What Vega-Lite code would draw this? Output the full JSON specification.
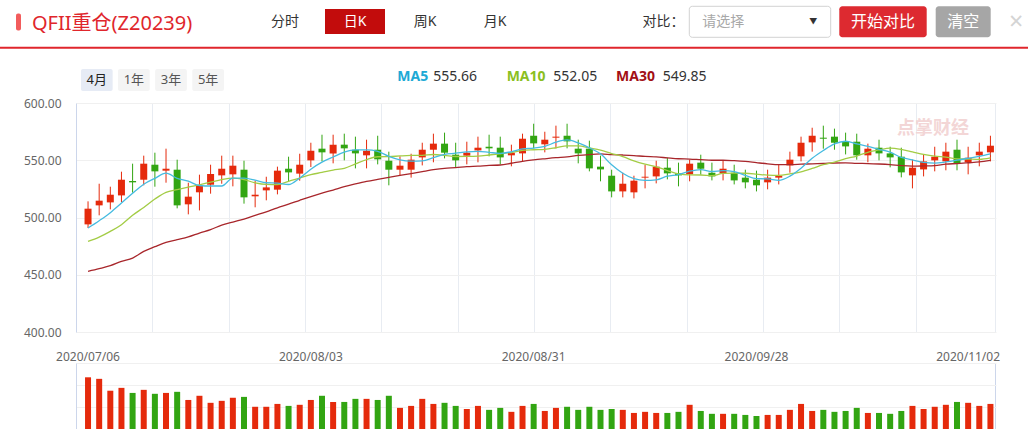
{
  "$schema": "https://vega.github.io/schema/vega-lite/v6.json",
  "padding": 0,
  "background": "white",
  "bounds": "flush",
  "spacing": 31,
  "config": {"font": "Noto Sans, Noto Sans CJK SC", "view": {"stroke": null}},
  "datasets": {
    "k": [
      {"date":"2020/07/06","open":494.0,"high":514.1,"low":490.8,"close":507.7,"volume":235,"ma5":490.8,"ma10":479.2,"ma30":453.0},
      {"date":"2020/07/07","open":510.6,"high":529.5,"low":501.9,"close":514.7,"volume":228,"ma5":497.2,"ma10":482.9,"ma30":455.3},
      {"date":"2020/07/08","open":513.2,"high":526.9,"low":507.1,"close":519.9,"volume":174,"ma5":504.2,"ma10":487.9,"ma30":457.9},
      {"date":"2020/07/09","open":519.3,"high":540.0,"low":513.5,"close":533.0,"volume":187,"ma5":512.6,"ma10":493.7,"ma30":461.7},
      {"date":"2020/07/10","open":531.9,"high":547.0,"low":521.7,"close":530.7,"volume":164,"ma5":521.2,"ma10":501.9,"ma30":464.6},
      {"date":"2020/07/13","open":533.0,"high":554.0,"low":528.1,"close":547.0,"volume":178,"ma5":529.06,"ma10":508.8,"ma30":470.4},
      {"date":"2020/07/14","open":546.1,"high":556.6,"low":526.9,"close":540.3,"volume":160,"ma5":534.18,"ma10":516.1,"ma30":474.5},
      {"date":"2020/07/15","open":540.9,"high":560.1,"low":530.4,"close":542.6,"volume":164,"ma5":538.72,"ma10":522.0,"ma30":478.3},
      {"date":"2020/07/16","open":541.75,"high":550.5,"low":508.0,"close":510.6,"volume":169,"ma5":534.24,"ma10":524.3,"ma30":480.6},
      {"date":"2020/07/17","open":511.5,"high":530.4,"low":502.75,"close":518.2,"volume":132,"ma5":531.74,"ma10":526.47,"ma30":483.0},
      {"date":"2020/07/20","open":522.0,"high":537.4,"low":506.2,"close":528.1,"volume":151,"ma5":527.96,"ma10":528.51,"ma30":486.4},
      {"date":"2020/07/21","open":528.65,"high":546.1,"low":520.8,"close":538.0,"volume":119,"ma5":527.5,"ma10":530.84,"ma30":489.5},
      {"date":"2020/07/22","open":536.8,"high":554.0,"low":529.5,"close":542.6,"volume":128,"ma5":527.5,"ma10":533.11,"ma30":493.3},
      {"date":"2020/07/23","open":537.7,"high":554.0,"low":527.2,"close":545.25,"volume":142,"ma5":534.43,"ma10":534.34,"ma30":496.0},
      {"date":"2020/07/24","open":541.75,"high":549.6,"low":512.1,"close":517.6,"volume":146,"ma5":534.31,"ma10":533.03,"ma30":498.6},
      {"date":"2020/07/27","open":518.5,"high":532.15,"low":508.9,"close":519.9,"volume":101,"ma5":532.67,"ma10":530.32,"ma30":501.8},
      {"date":"2020/07/28","open":523.7,"high":535.6,"low":515.0,"close":526.3,"volume":101,"ma5":530.33,"ma10":528.92,"ma30":505.0},
      {"date":"2020/07/29","open":524.3,"high":544.4,"low":520.2,"close":540.9,"volume":114,"ma5":529.99,"ma10":528.75,"ma30":508.5},
      {"date":"2020/07/30","open":542.6,"high":553.1,"low":531.6,"close":539.4,"volume":105,"ma5":528.82,"ma10":531.63,"ma30":511.6},
      {"date":"2020/07/31","open":538.3,"high":555.7,"low":532.15,"close":546.1,"volume":110,"ma5":534.52,"ma10":534.42,"ma30":515.0},
      {"date":"2020/08/03","open":549.9,"high":565.3,"low":544.1,"close":558.3,"volume":132,"ma5":542.2,"ma10":537.44,"ma30":518.3},
      {"date":"2020/08/04","open":560.1,"high":572.3,"low":549.0,"close":556.9,"volume":151,"ma5":548.32,"ma10":539.33,"ma30":521.3},
      {"date":"2020/08/05","open":556.0,"high":572.3,"low":547.3,"close":563.6,"volume":123,"ma5":552.86,"ma10":541.43,"ma30":524.0},
      {"date":"2020/08/06","open":563.6,"high":573.2,"low":549.9,"close":560.4,"volume":123,"ma5":557.06,"ma10":542.94,"ma30":526.9},
      {"date":"2020/08/07","open":559.2,"high":570.6,"low":542.9,"close":556.0,"volume":137,"ma5":559.04,"ma10":546.78,"ma30":529.3},
      {"date":"2020/08/10","open":554.3,"high":567.95,"low":542.9,"close":558.3,"volume":137,"ma5":559.04,"ma10":550.62,"ma30":531.5},
      {"date":"2020/08/11","open":559.2,"high":571.4,"low":546.4,"close":550.8,"volume":132,"ma5":557.82,"ma10":553.07,"ma30":533.3},
      {"date":"2020/08/12","open":549.6,"high":557.5,"low":528.1,"close":541.75,"volume":151,"ma5":553.45,"ma10":553.16,"ma30":535.0},
      {"date":"2020/08/13","open":541.75,"high":553.4,"low":536.5,"close":545.25,"volume":96,"ma5":550.42,"ma10":553.74,"ma30":536.7},
      {"date":"2020/08/14","open":541.75,"high":555.7,"low":534.8,"close":550.5,"volume":105,"ma5":549.32,"ma10":554.18,"ma30":538.36},
      {"date":"2020/08/17","open":552.5,"high":565.3,"low":545.5,"close":559.2,"volume":137,"ma5":549.5,"ma10":554.27,"ma30":540.07},
      {"date":"2020/08/18","open":559.2,"high":573.2,"low":548.2,"close":564.5,"volume":114,"ma5":552.24,"ma10":555.03,"ma30":541.73},
      {"date":"2020/08/19","open":564.5,"high":574.1,"low":551.65,"close":556.6,"volume":119,"ma5":555.21,"ma10":554.33,"ma30":542.96},
      {"date":"2020/08/20","open":554.85,"high":565.3,"low":543.8,"close":549.9,"volume":105,"ma5":556.14,"ma10":553.28,"ma30":543.52},
      {"date":"2020/08/21","open":554.0,"high":566.2,"low":546.4,"close":556.6,"volume":91,"ma5":557.36,"ma10":553.34,"ma30":544.38},
      {"date":"2020/08/24","open":558.6,"high":570.6,"low":548.2,"close":560.96,"volume":105,"ma5":557.71,"ma10":553.61,"ma30":544.85},
      {"date":"2020/08/25","open":561.8,"high":572.3,"low":553.4,"close":560.4,"volume":87,"ma5":556.89,"ma10":554.57,"ma30":545.52},
      {"date":"2020/08/26","open":560.96,"high":570.6,"low":546.4,"close":552.5,"volume":96,"ma5":556.07,"ma10":555.64,"ma30":545.85},
      {"date":"2020/08/27","open":554.3,"high":563.6,"low":544.7,"close":556.6,"volume":78,"ma5":557.41,"ma10":556.78,"ma30":547.38},
      {"date":"2020/08/28","open":556.0,"high":573.2,"low":549.0,"close":568.8,"volume":105,"ma5":559.85,"ma10":558.61,"ma30":549.07},
      {"date":"2020/08/31","open":571.4,"high":581.9,"low":560.4,"close":564.75,"volume":114,"ma5":560.61,"ma10":559.16,"ma30":550.29},
      {"date":"2020/09/01","open":563.9,"high":574.9,"low":556.9,"close":567.95,"volume":82,"ma5":562.12,"ma10":559.51,"ma30":551.29},
      {"date":"2020/09/02","open":569.7,"high":580.2,"low":560.4,"close":570.6,"volume":96,"ma5":565.74,"ma10":560.91,"ma30":552.22},
      {"date":"2020/09/03","open":571.4,"high":581.9,"low":560.4,"close":566.5,"volume":101,"ma5":567.72,"ma10":562.57,"ma30":552.93},
      {"date":"2020/09/04","open":560.1,"high":567.95,"low":547.3,"close":556.0,"volume":87,"ma5":565.16,"ma10":562.51,"ma30":554.21},
      {"date":"2020/09/07","open":560.1,"high":567.1,"low":540.3,"close":542.9,"volume":101,"ma5":560.79,"ma10":560.7,"ma30":554.98},
      {"date":"2020/09/08","open":544.4,"high":554.0,"low":531.6,"close":542.0,"volume":87,"ma5":555.6,"ma10":558.86,"ma30":555.5},
      {"date":"2020/09/09","open":536.5,"high":541.75,"low":517.6,"close":522.8,"volume":91,"ma5":546.04,"ma10":555.89,"ma30":554.9},
      {"date":"2020/09/10","open":522.8,"high":539.1,"low":517.6,"close":529.5,"volume":87,"ma5":538.64,"ma10":553.18,"ma30":554.57},
      {"date":"2020/09/11","open":521.96,"high":536.5,"low":516.7,"close":532.15,"volume":73,"ma5":533.87,"ma10":549.52,"ma30":554.1},
      {"date":"2020/09/14","open":534.8,"high":546.1,"low":525.45,"close":535.6,"volume":78,"ma5":532.41,"ma10":546.6,"ma30":553.34},
      {"date":"2020/09/15","open":535.9,"high":549.6,"low":529.8,"close":544.4,"volume":73,"ma5":532.89,"ma10":544.25,"ma30":552.93},
      {"date":"2020/09/16","open":543.5,"high":552.2,"low":533.3,"close":538.55,"volume":73,"ma5":536.04,"ma10":541.04,"ma30":552.09},
      {"date":"2020/09/17","open":538.55,"high":547.9,"low":527.2,"close":536.8,"volume":78,"ma5":537.5,"ma10":538.07,"ma30":551.31},
      {"date":"2020/09/18","open":537.7,"high":550.5,"low":531.6,"close":547.0,"volume":110,"ma5":540.47,"ma10":537.17,"ma30":551.01},
      {"date":"2020/09/21","open":547.9,"high":554.85,"low":537.4,"close":542.6,"volume":82,"ma5":541.87,"ma10":537.14,"ma30":550.48},
      {"date":"2020/09/22","open":539.1,"high":547.9,"low":532.4,"close":535.9,"volume":69,"ma5":540.17,"ma10":536.53,"ma30":549.99},
      {"date":"2020/09/23","open":538.55,"high":549.6,"low":532.4,"close":542.6,"volume":69,"ma5":540.98,"ma10":538.51,"ma30":550.01},
      {"date":"2020/09/24","open":539.1,"high":546.1,"low":528.9,"close":532.4,"volume":69,"ma5":540.1,"ma10":538.8,"ma30":549.59},
      {"date":"2020/09/25","open":534.8,"high":541.75,"low":525.45,"close":530.7,"volume":64,"ma5":536.84,"ma10":538.66,"ma30":548.93},
      {"date":"2020/09/28","open":533.0,"high":540.9,"low":522.8,"close":528.1,"volume":59,"ma5":533.94,"ma10":537.91,"ma30":547.89},
      {"date":"2020/09/29","open":530.7,"high":541.75,"low":524.6,"close":534.8,"volume":64,"ma5":533.72,"ma10":536.95,"ma30":546.9},
      {"date":"2020/09/30","open":534.8,"high":546.1,"low":528.9,"close":536.5,"volume":64,"ma5":532.5,"ma10":536.74,"ma30":546.23},
      {"date":"2020/10/09","open":545.5,"high":557.5,"low":539.1,"close":550.5,"volume":87,"ma5":536.12,"ma10":538.11,"ma30":546.25},
      {"date":"2020/10/12","open":553.4,"high":570.6,"low":549.0,"close":565.3,"volume":114,"ma5":543.04,"ma10":539.94,"ma30":546.54},
      {"date":"2020/10/13","open":565.6,"high":578.4,"low":557.5,"close":571.4,"volume":82,"ma5":551.7,"ma10":542.82,"ma30":546.89},
      {"date":"2020/10/14","open":569.7,"high":580.2,"low":560.1,"close":568.8,"volume":87,"ma5":558.5,"ma10":546.11,"ma30":547.17},
      {"date":"2020/10/15","open":570.6,"high":577.6,"low":559.2,"close":565.3,"volume":78,"ma5":564.26,"ma10":548.38,"ma30":547.59},
      {"date":"2020/10/16","open":566.2,"high":574.1,"low":555.1,"close":562.1,"volume":82,"ma5":566.58,"ma10":551.35,"ma30":547.78},
      {"date":"2020/10/19","open":566.2,"high":573.2,"low":550.5,"close":554.3,"volume":96,"ma5":564.38,"ma10":553.71,"ma30":547.29},
      {"date":"2020/10/20","open":554.3,"high":564.5,"low":548.2,"close":560.1,"volume":73,"ma5":562.12,"ma10":556.91,"ma30":547.14},
      {"date":"2020/10/21","open":560.96,"high":567.95,"low":549.9,"close":556.0,"volume":73,"ma5":559.56,"ma10":559.03,"ma30":546.74},
      {"date":"2020/10/22","open":556.0,"high":561.8,"low":543.8,"close":552.5,"volume":69,"ma5":557.0,"ma10":560.63,"ma30":546.14},
      {"date":"2020/10/23","open":553.1,"high":560.96,"low":535.06,"close":539.4,"volume":82,"ma5":552.46,"ma10":559.52,"ma30":545.23},
      {"date":"2020/10/26","open":536.8,"high":550.5,"low":525.45,"close":543.5,"volume":105,"ma5":550.3,"ma10":557.34,"ma30":544.82},
      {"date":"2020/10/27","open":542.0,"high":554.85,"low":535.9,"close":549.0,"volume":91,"ma5":548.08,"ma10":555.1,"ma30":545.02},
      {"date":"2020/10/28","open":549.9,"high":561.8,"low":540.3,"close":553.1,"volume":101,"ma5":547.5,"ma10":553.53,"ma30":545.39},
      {"date":"2020/10/29","open":549.0,"high":565.3,"low":541.2,"close":557.5,"volume":110,"ma5":548.5,"ma10":552.75,"ma30":546.55},
      {"date":"2020/10/30","open":559.2,"high":567.95,"low":541.2,"close":547.0,"volume":123,"ma5":550.02,"ma10":551.24,"ma30":547.13},
      {"date":"2020/11/02","open":548.2,"high":561.8,"low":537.7,"close":552.2,"volume":119,"ma5":551.76,"ma10":551.03,"ma30":547.8},
      {"date":"2020/11/03","open":554.3,"high":565.3,"low":544.7,"close":557.5,"volume":105,"ma5":553.46,"ma10":550.77,"ma30":548.53},
      {"date":"2020/11/04","open":556.9,"high":571.4,"low":549.0,"close":562.7,"volume":114,"ma5":555.66,"ma10":552.05,"ma30":549.85}
    ],
    "hdr": [
      {"grp":"titlebar","label":"bar"},
      {"grp":"title","label":"QFII重仓(Z20239)"},
      {"grp":"tab","label":"分时"},{"grp":"tab","label":"日K"},{"grp":"tab","label":"周K"},{"grp":"tab","label":"月K"},
      {"grp":"cmp","label":"对比："},
      {"grp":"select","label":"请选择"},
      {"grp":"start","label":"开始对比"},
      {"grp":"clear","label":"清空"},
      {"grp":"close","label":"×"},
      {"grp":"rule","label":"rule"},
      {"grp":"period","label":"4月"},{"grp":"period","label":"1年"},{"grp":"period","label":"3年"},{"grp":"period","label":"5年"},
      {"grp":"ma","label":"MA5","value":"555.66"},{"grp":"ma","label":"MA10","value":"552.05"},{"grp":"ma","label":"MA30","value":"549.85"}
    ]
  },
  "vconcat": [
    {
      "width": 920,
      "height": 72,
      "data": {"name": "hdr"},
      "resolve": {"scale": {"x": "independent", "y": "independent"}},
      "layer": [
        {
          "transform": [{"filter": "datum.grp === 'titlebar'"}],
          "mark": {"type": "bar", "color": "#f25c5c", "cornerRadius": 2},
          "encoding": {
            "x": {"field": "label", "type": "nominal", "scale": {"type": "band", "domain": ["bar"], "range": [-60, -55], "paddingInner": 0, "paddingOuter": 0}, "axis": null},
            "y": {"field": "grp", "type": "nominal", "scale": {"type": "band", "domain": ["titlebar"], "range": [13.5, 30.5], "paddingInner": 0, "paddingOuter": 0}, "axis": null}
          }
        },
        {
          "transform": [{"filter": "datum.grp === 'title'"}],
          "mark": {"type": "text", "align": "left", "fontSize": 20, "color": "#e0262c"},
          "encoding": {
            "x": {"field": "label", "type": "nominal", "bandPosition": 0, "scale": {"type": "band", "domain": ["QFII重仓(Z20239)"], "range": [-44, 120], "paddingInner": 0, "paddingOuter": 0}, "axis": null},
            "y": {"field": "grp", "type": "nominal", "scale": {"type": "band", "domain": ["title"], "range": [12, 35], "paddingInner": 0, "paddingOuter": 0}, "axis": null},
            "text": {"field": "label"}
          }
        },
        {
          "transform": [{"filter": "datum.grp === 'tab'"}],
          "encoding": {
            "x": {"field": "label", "type": "nominal", "sort": null, "scale": {"type": "band", "domain": ["分时", "日K", "周K", "月K"], "range": [174, 454], "paddingInner": 0.1429, "paddingOuter": 0.0714}, "axis": null},
            "y": {"field": "grp", "type": "nominal", "scale": {"type": "band", "domain": ["tab"], "range": [9, 34], "paddingInner": 0, "paddingOuter": 0}, "axis": null}
          },
          "layer": [
            {"transform": [{"filter": "datum.label === '日K'"}], "mark": {"type": "bar", "color": "#c20c0c"}},
            {"mark": {"type": "text", "fontSize": 14}, "encoding": {"text": {"field": "label"}, "color": {"condition": {"test": "datum.label === '日K'", "value": "white"}, "value": "#333333"}}}
          ]
        },
        {
          "transform": [{"filter": "datum.grp === 'cmp'"}],
          "mark": {"type": "text", "fontSize": 14, "color": "#333333"},
          "encoding": {
            "x": {"field": "label", "type": "nominal", "scale": {"type": "band", "domain": ["对比："], "range": [564, 611], "paddingInner": 0, "paddingOuter": 0}, "axis": null},
            "y": {"field": "grp", "type": "nominal", "scale": {"type": "band", "domain": ["cmp"], "range": [6, 37], "paddingInner": 0, "paddingOuter": 0}, "axis": null},
            "text": {"field": "label"}
          }
        },
        {
          "transform": [{"filter": "datum.grp === 'select'"}],
          "encoding": {
            "x": {"field": "label", "type": "nominal", "scale": {"type": "band", "domain": ["请选择"], "range": [613.3, 754.7], "paddingInner": 0, "paddingOuter": 0}, "axis": null},
            "y": {"field": "grp", "type": "nominal", "scale": {"type": "band", "domain": ["select"], "range": [6.3, 37.3], "paddingInner": 0, "paddingOuter": 0}, "axis": null}
          },
          "layer": [
            {"mark": {"type": "bar", "fill": "white", "stroke": "#d2d2d2", "strokeWidth": 1, "cornerRadius": 3}},
            {"mark": {"type": "text", "fontSize": 14, "color": "#a8a8a8", "align": "left", "dx": 13}, "encoding": {"x": {"field": "label", "type": "nominal", "bandPosition": 0}, "text": {"field": "label"}}},
            {"mark": {"type": "text", "fontSize": 8, "color": "#333333", "text": "▼", "dx": -17.5}, "encoding": {"x": {"field": "label", "type": "nominal", "bandPosition": 1}}}
          ]
        },
        {
          "transform": [{"filter": "datum.grp === 'start'"}],
          "encoding": {
            "x": {"field": "label", "type": "nominal", "scale": {"type": "band", "domain": ["开始对比"], "range": [763.3, 850.7], "paddingInner": 0, "paddingOuter": 0}, "axis": null},
            "y": {"field": "grp", "type": "nominal", "scale": {"type": "band", "domain": ["start"], "range": [6.3, 37.3], "paddingInner": 0, "paddingOuter": 0}, "axis": null}
          },
          "layer": [
            {"mark": {"type": "bar", "color": "#dd2a30", "cornerRadius": 3}},
            {"mark": {"type": "text", "fontSize": 16, "color": "white"}, "encoding": {"text": {"field": "label"}}}
          ]
        },
        {
          "transform": [{"filter": "datum.grp === 'clear'"}],
          "encoding": {
            "x": {"field": "label", "type": "nominal", "scale": {"type": "band", "domain": ["清空"], "range": [859.7, 914.7], "paddingInner": 0, "paddingOuter": 0}, "axis": null},
            "y": {"field": "grp", "type": "nominal", "scale": {"type": "band", "domain": ["clear"], "range": [6.3, 37.3], "paddingInner": 0, "paddingOuter": 0}, "axis": null}
          },
          "layer": [
            {"mark": {"type": "bar", "color": "#a6a6a6", "cornerRadius": 3}},
            {"mark": {"type": "text", "fontSize": 16, "color": "white"}, "encoding": {"text": {"field": "label"}}}
          ]
        },
        {
          "transform": [{"filter": "datum.grp === 'close'"}],
          "mark": {"type": "text", "fontSize": 25, "color": "#d4d4d4"},
          "encoding": {
            "x": {"field": "label", "type": "nominal", "scale": {"type": "band", "domain": ["×"], "range": [932.7, 947.7], "paddingInner": 0, "paddingOuter": 0}, "axis": null},
            "y": {"field": "grp", "type": "nominal", "scale": {"type": "band", "domain": ["close"], "range": [10, 34], "paddingInner": 0, "paddingOuter": 0}, "axis": null},
            "text": {"field": "label"}
          }
        },
        {
          "transform": [{"filter": "datum.grp === 'rule'"}],
          "mark": {"type": "bar", "color": "#e0262c"},
          "encoding": {
            "x": {"field": "label", "type": "nominal", "scale": {"type": "band", "domain": ["rule"], "range": [-76, 952], "paddingInner": 0, "paddingOuter": 0}, "axis": null},
            "y": {"field": "grp", "type": "nominal", "scale": {"type": "band", "domain": ["rule"], "range": [46.8, 48.8], "paddingInner": 0, "paddingOuter": 0}, "axis": null}
          }
        },
        {
          "transform": [{"filter": "datum.grp === 'period'"}],
          "encoding": {
            "x": {"field": "label", "type": "nominal", "sort": null, "scale": {"type": "band", "domain": ["4月", "1年", "3年", "5年"], "range": [2.25, 150.65], "paddingInner": 0.1456, "paddingOuter": 0.0728}, "axis": null},
            "y": {"field": "grp", "type": "nominal", "scale": {"type": "band", "domain": ["period"], "range": [69, 91], "paddingInner": 0, "paddingOuter": 0}, "axis": null}
          },
          "layer": [
            {"mark": {"type": "bar", "cornerRadius": 2}, "encoding": {"color": {"condition": {"test": "datum.label === '4月'", "value": "#e6ebf5"}, "value": "#f4f4f4"}}},
            {"mark": {"type": "text", "fontSize": 13}, "encoding": {"text": {"field": "label"}, "color": {"condition": {"test": "datum.label === '4月'", "value": "#222222"}, "value": "#555555"}, "fontWeight": {"condition": {"test": "datum.label === '4月'", "value": "bold"}, "value": "normal"}}}
          ]
        },
        {
          "transform": [{"filter": "datum.grp === 'ma'"}],
          "encoding": {
            "x": {"field": "label", "type": "nominal", "sort": null, "bandPosition": 0, "scale": {"type": "band", "domain": ["MA5", "MA10", "MA30"], "range": [321.3, 649.35], "paddingInner": 0, "paddingOuter": 0}, "axis": null},
            "y": {"field": "grp", "type": "nominal", "scale": {"type": "band", "domain": ["ma"], "range": [65.5, 88.5], "paddingInner": 0, "paddingOuter": 0}, "axis": null}
          },
          "layer": [
            {"mark": {"type": "text", "fontSize": 14, "fontWeight": "bold", "align": "left"}, "encoding": {"text": {"field": "label"}, "color": {"field": "label", "type": "nominal", "scale": {"domain": ["MA5", "MA10", "MA30"], "range": ["#20a9d5", "#8bbf1f", "#a20f14"]}, "legend": null}}},
            {"mark": {"type": "text", "fontSize": 14, "align": "left", "color": "#333333", "dx": {"expr": "datum.label === 'MA5' ? 36 : 46.7"}}, "encoding": {"text": {"field": "value"}}}
          ]
        }
      ]
    },
    {
      "width": 920,
      "height": 229,
      "data": {"name": "k"},
      "resolve": {"scale": {"x": "independent"}},
      "layer": [
        {
          "encoding": {
            "x": {"datum": 0, "type": "quantitative", "scale": {"domain": [0, 12.053], "nice": false, "zero": false}, "axis": {"orient": "top", "grid": true, "gridColor": "#e8ecf2", "labels": false, "ticks": false, "domain": false, "title": null, "values": [1, 2, 3, 4, 5, 6, 7, 8, 9, 10, 11, 12.04]}}
          },
          "layer": [
            {"data": {"values": [{"mark": "watermark"}]}, "mark": {"type": "rule", "opacity": 0}},
            {
              "data": {"values": [{"mark": "watermark"}]},
              "mark": {"type": "text", "text": "点掌财经", "fontSize": 18, "fontWeight": "bold", "color": "#f3d6d6"},
              "encoding": {"x": {"datum": 11.228, "type": "quantitative"}, "y": {"datum": 577, "type": "quantitative"}}
            }
          ]
        },
        {
          "encoding": {
            "x": {"field": "date", "type": "ordinal", "sort": null, "scale": {"type": "band", "paddingInner": 0, "paddingOuter": 0.29, "align": 1}, "axis": null}
          },
          "layer": [
            {
              "mark": {"type": "rule", "strokeWidth": 1},
              "encoding": {
                "y": {"field": "low", "type": "quantitative", "title": null, "scale": {"domain": [400, 600], "nice": false, "zero": false}, "axis": {"values": [400, 450, 500, 550, 600], "format": ".2f", "grid": true, "gridColor": "#f0f0f0", "domain": true, "domainColor": "#ccd6eb", "ticks": false, "labelPadding": 15, "labelColor": "#666666", "labelFontSize": 12}},
                "y2": {"field": "high"},
                "color": {"condition": {"test": "datum.close >= datum.open", "value": "#e52a0c"}, "value": "#32a512"}
              }
            },
            {
              "mark": {"type": "bar", "width": 7},
              "encoding": {
                "y": {"field": "open", "type": "quantitative", "title": null},
                "y2": {"field": "close"},
                "color": {"condition": {"test": "datum.close >= datum.open", "value": "#e52a0c"}, "value": "#32a512"}
              }
            },
            {
              "mark": {"type": "line", "strokeWidth": 1.3, "color": "#a8262b", "interpolate": "monotone"},
              "encoding": {"y": {"field": "ma30", "type": "quantitative", "title": null}}
            },
            {
              "mark": {"type": "line", "strokeWidth": 1.3, "color": "#a3cc45", "interpolate": "monotone"},
              "encoding": {"y": {"field": "ma10", "type": "quantitative", "title": null}}
            },
            {
              "mark": {"type": "line", "strokeWidth": 1.3, "color": "#45bbe0", "interpolate": "monotone"},
              "encoding": {"y": {"field": "ma5", "type": "quantitative", "title": null}}
            }
          ]
        }
      ]
    },
    {
      "width": 920,
      "height": 66,
      "data": {"name": "k"},
      "resolve": {"scale": {"x": "independent"}},
      "layer": [
        {
          "mark": {"type": "rule", "opacity": 0},
          "encoding": {
            "x": {"datum": 0, "type": "quantitative", "scale": {"domain": [0, 12.053], "nice": false, "zero": false}, "axis": {"orient": "bottom", "grid": true, "gridColor": "#ccd6eb", "labels": false, "ticks": false, "domain": false, "title": null, "values": [12.04]}}
          }
        },
        {
          "mark": {"type": "bar", "width": 6},
          "encoding": {
            "x": {"field": "date", "type": "ordinal", "sort": null, "scale": {"type": "band", "paddingInner": 0, "paddingOuter": 0.29, "align": 1}, "axis": {"orient": "top", "values": ["2020/07/06", "2020/08/03", "2020/08/31", "2020/09/28", "2020/11/02"], "labelAngle": 0, "labelPadding": 0, "ticks": false, "domain": false, "grid": false, "labelColor": "#666666", "labelFontSize": 12, "title": null}},
            "y": {"field": "volume", "type": "quantitative", "title": null, "scale": {"domain": [0, 300], "nice": false}, "axis": {"values": [0, 100, 200, 300], "grid": true, "gridColor": {"condition": {"test": "datum.value === 0", "value": "#ccd6eb"}, "value": "#f0f0f0"}, "labels": false, "ticks": false, "domain": true, "domainColor": "#ccd6eb"}},
            "color": {"condition": {"test": "datum.close >= datum.open", "value": "#e52a0c"}, "value": "#32a512"}
          }
        }
      ]
    }
  ]
}
